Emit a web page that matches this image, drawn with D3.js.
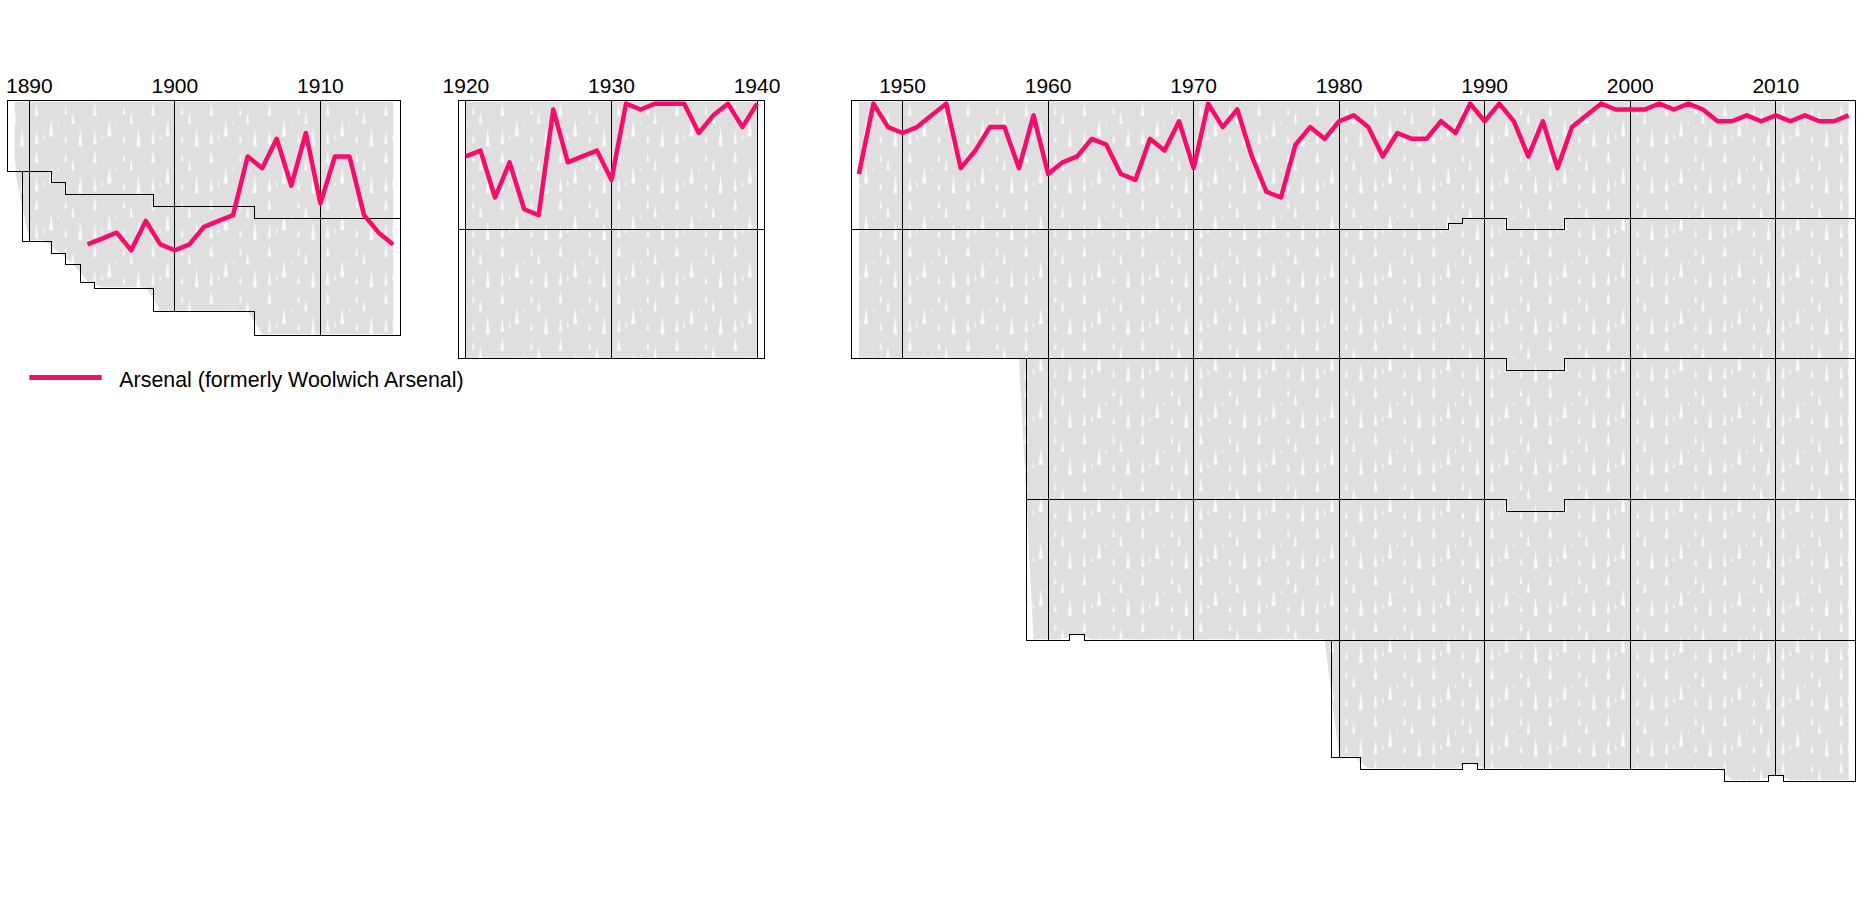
<!DOCTYPE html>
<html>
<head>
<meta charset="utf-8">
<script src="https://cdn.jsdelivr.net/npm/d3@7"></script>
<style>
  body { margin: 0; background: #fff; }
  svg { display: block; font-family: "Liberation Sans", Arial, sans-serif; }
</style>
</head>
<body>
<div id="chart"></div>
<script>
// League structure: [first season, last season, number of clubs]
// seasons are labelled by the year they ended in
const tier1Runs = [[1889, 1891, 12], [1892, 1892, 14], [1893, 1898, 16], [1899, 1905, 18],
  [1906, 1915, 20], [1920, 1940, 22], [1947, 1987, 22], [1988, 1988, 21],
  [1989, 1991, 20], [1992, 1995, 22], [1996, 2015, 20]];
const tier2Runs = [[1890, 1893, 12], [1894, 1894, 15], [1895, 1898, 16], [1899, 1905, 18],
  [1906, 1915, 20], [1920, 1940, 22], [1947, 1987, 22], [1988, 1988, 23], [1989, 2015, 24]];
const tier3Runs = [[1959, 2015, 24]];
const tier4Runs = [[1959, 1961, 24], [1962, 1962, 23], [1963, 1991, 24], [1992, 1995, 22],
  [1996, 2015, 24]];
const tier5Runs = [[1980, 1981, 20], [1982, 1988, 22], [1989, 1989, 21], [1990, 2006, 22],
  [2007, 2009, 24], [2010, 2010, 23], [2011, 2015, 24]];

// Periods with football (wartime gaps between them)
const panels = [[1889, 1915], [1920, 1940], [1947, 2015]];

// Decade labels along the top
const tickYears = [1890, 1900, 1910, 1920, 1930, 1940, 1950, 1960, 1970, 1980, 1990, 2000, 2010];

// Arsenal overall position in the pyramid, per panel
const arsenalYears1 = d3.range(1894, 1916);
const arsenalPos1 = [25, 24, 23, 26, 21, 25, 26, 25, 22, 21, 20, 10, 12, 7, 15, 6, 18, 10, 10, 20, 23, 25];
const arsenalYears2 = d3.range(1920, 1941);
const arsenalPos2 = [10, 9, 17, 11, 19, 20, 2, 11, 10, 9, 14, 1, 2, 1, 1, 1, 6, 3, 1, 5, 1];
const arsenalYears3 = d3.range(1947, 2016);
const arsenalPos3 = [13, 1, 5, 6, 5, 3, 1, 12, 9, 5, 5, 12, 3, 13, 11, 10, 7, 8, 13, 14,
  7, 9, 4, 12, 1, 5, 2, 10, 16, 17, 8, 5, 7, 4, 3, 5, 10, 6, 7, 7,
  4, 6, 1, 4, 1, 4, 10, 4, 12, 5, 3, 1, 2, 2, 2, 1, 2, 1, 2, 4,
  4, 3, 4, 3, 4, 3, 4, 4, 3];

const legendLabel = "Arsenal (formerly Woolwich Arsenal)";
const arsenalColor = "#f70c6c";

const width = 1864;
const height = 901;

const x = d3.scaleLinear().domain([1888.5, 2015.5]).range([7.5, 1855.8]);
const y = d3.scaleLinear().domain([0, 118]).range([100.7, 792.9]);

// Expand the runs into year -> size lookups
function expandRuns(runs) {
  const lookup = {};
  runs.forEach(([from, to, n]) => {
    for (let yr = from; yr <= to; yr++) lookup[yr] = n;
  });
  return lookup;
}
const tiers = [tier1Runs, tier2Runs, tier3Runs, tier4Runs, tier5Runs].map(expandRuns);

function clubsAbove(tierIndex, yr) {
  let sum = 0;
  for (let i = 0; i < tierIndex; i++) sum += tiers[i][yr] || 0;
  return sum;
}
function totalClubs(yr) {
  return clubsAbove(tiers.length, yr);
}

const svg = d3.select("#chart").append("svg")
  .attr("width", width)
  .attr("height", height);

// Texture standing in for the mesh of every other club's line
// (tile is 4 seasons wide and 8 places tall; holes given in those units)
const yearW = x(1) - x(0);
const rankH = y(1) - y(0);
const meshHoles = [
  [0.5, 0.4, 2.6, 0.13], [1.5, 3.2, 6.1, 0.15], [2.5, 0.9, 2.4, 0.09],
  [3.5, 4.6, 7.8, 0.14], [1.0, 5.5, 6.6, 0.07], [3.0, 1.8, 3.9, 0.11],
  [2.5, 5.8, 7.2, 0.1], [0.5, 4.9, 7.4, 0.12], [2.0, 3.3, 4.0, 0.06]
];
const pattern = svg.append("defs").append("pattern")
  .attr("id", "mesh")
  .attr("patternUnits", "userSpaceOnUse")
  .attr("x", x(1890))
  .attr("y", y(0))
  .attr("width", yearW * 4)
  .attr("height", rankH * 8);
pattern.append("rect")
  .attr("width", yearW * 4)
  .attr("height", rankH * 8)
  .attr("fill", "#dfdfdf");
pattern.selectAll("polygon")
  .data(meshHoles)
  .join("polygon")
  .attr("points", ([cx, r0, r1, w]) => {
    const px = cx * yearW, a = r0 * rankH, b = r1 * rankH, hw = w * yearW;
    return `${px},${a} ${px + hw},${b} ${px - hw},${b}`;
  })
  .attr("fill", "#fbfbfb");

// Grey band covering all clubs in each period
const meshArea = d3.area()
  .x(d => x(d))
  .y0(() => y(0.2))
  .y1(d => y(totalClubs(d) - 0.2));

panels.forEach(([from, to]) => {
  svg.append("path")
    .datum(d3.range(from, to + 1))
    .attr("d", meshArea)
    .attr("fill", "url(#mesh)");
});

// Division outlines: one closed step shape per tier and per unbroken run of seasons
const outline = d3.line();
tiers.forEach((sizes, t) => {
  const years = Object.keys(sizes).map(Number).sort((a, b) => a - b);
  const runs = [];
  years.forEach(yr => {
    const last = runs[runs.length - 1];
    if (last && last[last.length - 1] === yr - 1) last.push(yr);
    else runs.push([yr]);
  });
  runs.forEach(run => {
    const pts = [];
    run.forEach(yr => {
      const top = y(clubsAbove(t, yr));
      pts.push([x(yr - 0.5), top], [x(yr + 0.5), top]);
    });
    run.slice().reverse().forEach(yr => {
      const bottom = y(clubsAbove(t, yr) + sizes[yr]);
      pts.push([x(yr + 0.5), bottom], [x(yr - 0.5), bottom]);
    });
    svg.append("path")
      .attr("d", outline(pts) + "Z")
      .attr("fill", "none")
      .attr("stroke", "#000")
      .attr("stroke-width", 1)
      .attr("shape-rendering", "crispEdges");
  });
});

// Decade grid lines and labels
svg.append("g").selectAll("line")
  .data(tickYears)
  .join("line")
  .attr("x1", d => x(d)).attr("x2", d => x(d))
  .attr("y1", y(0)).attr("y2", d => y(totalClubs(d)))
  .attr("stroke", "#000")
  .attr("stroke-width", 1)
  .attr("shape-rendering", "crispEdges");

svg.append("g").selectAll("text")
  .data(tickYears)
  .join("text")
  .attr("x", d => x(d))
  .attr("y", 92.5)
  .attr("text-anchor", "middle")
  .attr("font-size", "21px")
  .attr("fill", "#000")
  .text(d => d);

// Arsenal
const arsenalLine = d3.line()
  .x(d => x(d[0]))
  .y(d => y(d[1] - 0.5));

[[arsenalYears1, arsenalPos1], [arsenalYears2, arsenalPos2], [arsenalYears3, arsenalPos3]]
  .forEach(([yrs, pos]) => {
    svg.append("path")
      .datum(yrs.map((yr, i) => [yr, pos[i]]))
      .attr("d", arsenalLine)
      .attr("fill", "none")
      .attr("stroke", arsenalColor)
      .attr("stroke-width", 4.5)
      .attr("stroke-linejoin", "round");
  });

// Legend
const legend = svg.append("g");
legend.append("line")
  .attr("x1", 29.3).attr("x2", 101.7)
  .attr("y1", 377.5).attr("y2", 377.5)
  .attr("stroke", arsenalColor)
  .attr("stroke-width", 5);
legend.append("text")
  .attr("x", 119.3)
  .attr("y", 386.5)
  .attr("font-size", "21.4px")
  .attr("fill", "#000")
  .text(legendLabel);
</script>
</body>
</html>
